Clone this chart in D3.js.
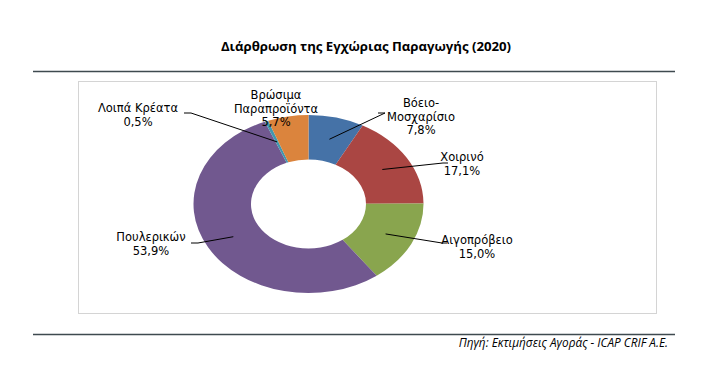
<!DOCTYPE html>
<html>
<head>
<meta charset="utf-8">
<script src="https://cdn.jsdelivr.net/npm/d3@7"></script>
<style>
body { margin: 0; background: #fff; }
</style>
</head>
<body>
<script>
//chart data
var categories = ["Βόειο-Μοσχαρίσιο", "Χοιρινό", "Αιγοπρόβειο", "Πουλερικών", "Λοιπά Κρέατα", "Βρώσιμα Παραπροϊόντα"];
var values = [7.8, 17.1, 15.0, 53.9, 0.5, 5.7];
var labelLines = [["Βόειο-", "Μοσχαρίσιο"], ["Χοιρινό"], ["Αιγοπρόβειο"], ["Πουλερικών"], ["Λοιπά Κρέατα"], ["Βρώσιμα", "Παραπροϊόντα"]];
var colors = ["#4572A7", "#AA4643", "#89A54E", "#71588F", "#4198AF", "#DB843D"];

//layout
var width = 707, height = 391;
var cx = 308.5, cy = 204;
var rx = 115, ry = 89;
var yScale = ry / rx;
var lineH = 13.5;
//label text centre (first line) and where the leader touches the label
var labelLayout = [
	{x: 421, y: 107, lx: [385, 378]},
	{x: 462, y: 161, lx: [443, 448]},
	{x: 477, y: 244, lx: [442, 447]},
	{x: 151, y: 241, lx: [198, 191]},
	{x: 138, y: 112, lx: [191, 184]},
	{x: 276, y: 99, lx: null}
];
var leaderY = [113, 163, 243, 243, 113];

var svg = d3.select("body").append("svg")
	.attr("width", width)
	.attr("height", height);

//title
svg.append("text")
	.attr("x", 366)
	.attr("y", 51)
	.attr("text-anchor", "middle")
	.attr("font-family", "Open Sans")
	.attr("font-weight", "bold")
	.attr("font-size", 13.2)
	.attr("fill", "#000")
	.text("Διάρθρωση της Εγχώριας Παραγωγής (2020)");

//rules above and below
svg.append("line")
	.attr("x1", 33).attr("x2", 675)
	.attr("y1", 71.5).attr("y2", 71.5)
	.attr("stroke", "#3f4a4f").attr("stroke-width", 1.3);
svg.append("line")
	.attr("x1", 33).attr("x2", 675)
	.attr("y1", 334.5).attr("y2", 334.5)
	.attr("stroke", "#3f4a4f").attr("stroke-width", 1.3);

//chart frame (faint)
svg.append("rect")
	.attr("x", 78.5).attr("y", 81.5)
	.attr("width", 578).attr("height", 232)
	.attr("fill", "none")
	.attr("stroke", "#d4d4d4").attr("stroke-width", 1);

//source
svg.append("text")
	.attr("x", 668)
	.attr("y", 347)
	.attr("text-anchor", "end")
	.attr("font-family", "Open Sans")
	.attr("font-style", "italic")
	.attr("font-size", 11.8)
	.attr("fill", "#000")
	.text("Πηγή: Εκτιμήσεις Αγοράς - ICAP CRIF A.E.");

//donut
var pie = d3.pie().sort(null).value(function(d) { return d; });
var arcs = pie(values);
var arc = d3.arc().innerRadius(rx * 0.5).outerRadius(rx);
var midArc = d3.arc().innerRadius(rx * 0.75).outerRadius(rx * 0.75);

var donut = svg.append("g")
	.attr("transform", "translate(" + cx + "," + cy + ") scale(1," + yScale + ")");
donut.selectAll("path")
	.data(arcs)
	.enter()
	.append("path")
	.attr("d", arc)
	.attr("fill", function(d, i) { return colors[i]; });

var fmt = function(v) { return d3.format(".1f")(v).replace(".", ",") + "%"; };

//leader lines
arcs.forEach(function(d, i) {
	var lay = labelLayout[i];
	if (!lay.lx) return;
	var c = midArc.centroid(d);
	var px = cx + c[0], py = cy + c[1] * yScale;
	var pts = [[px, py], [lay.lx[0], leaderY[i]], [lay.lx[1], leaderY[i]]];
	svg.append("path")
		.attr("d", d3.line()(pts))
		.attr("fill", "none")
		.attr("stroke", "#000")
		.attr("stroke-width", 1);
});

//labels
arcs.forEach(function(d, i) {
	var lay = labelLayout[i];
	var lines = labelLines[i].concat([fmt(values[i])]);
	var t = svg.append("text")
		.attr("text-anchor", "middle")
		.attr("font-family", "DejaVu Sans")
		.attr("font-size", 11.5)
		.attr("fill", "#000");
	lines.forEach(function(s, j) {
		t.append("tspan")
			.attr("x", lay.x)
			.attr("y", lay.y + j * lineH)
			.text(s);
	});
});
</script>
</body>
</html>
